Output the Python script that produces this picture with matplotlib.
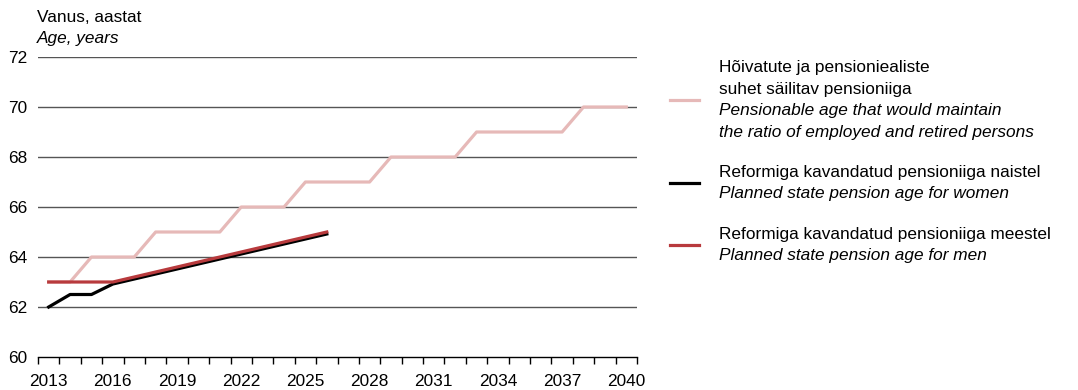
import matplotlib
matplotlib.use("Agg")
import matplotlib.pyplot as plt
from matplotlib.lines import Line2D
from matplotlib.ticker import FixedLocator, NullFormatter

plt.rcParams["font.family"] = ["Liberation Sans", "DejaVu Sans"]

years = list(range(2013, 2041))
ratio_age = [63, 63, 64, 64, 64, 65, 65, 65, 65, 66, 66, 66, 67, 67, 67, 67,
             68, 68, 68, 68, 69, 69, 69, 69, 69, 70, 70, 70]
reform_years = list(range(2013, 2027))
women_age = [62.0, 62.5, 62.5, 62.92, 63.12, 63.32, 63.52, 63.72, 63.92,
             64.12, 64.32, 64.52, 64.72, 64.92]
men_age = [63.0, 63.0, 63.0, 63.0, 63.2, 63.4, 63.6, 63.8, 64.0,
           64.2, 64.4, 64.6, 64.8, 65.0]
xtick_years = list(range(2013, 2041, 3))
yticks = [60, 62, 64, 66, 68, 70, 72]

PINK = "#e6b9b8"
RED = "#b83a3d"
BLACK = "#000000"
FS = 12.4

legend_items = [
    (PINK, ["Hõivatute ja pensioniealiste", "suhet säilitav pensioniiga"],
     ["Pensionable age that would maintain",
      "the ratio of employed and retired persons"]),
    (BLACK, ["Reformiga kavandatud pensioniiga naistel"],
     ["Planned state pension age for women"]),
    (RED, ["Reformiga kavandatud pensioniiga meestel"],
     ["Planned state pension age for men"]),
]

W, H = 1078, 390
fig = plt.figure(figsize=(W / 100, H / 100), dpi=100)
ax = fig.add_axes([38 / W, 1 - 357 / H, (637 - 38) / W, 300 / H])

for y in yticks[1:]:
    ax.axhline(y, color="#555555", lw=1.0, zorder=1)

ax.plot(years, ratio_age, color=PINK, lw=2.3, zorder=2)
ax.plot(reform_years, women_age, color=BLACK, lw=2.3, zorder=3)
ax.plot(reform_years, men_age, color=RED, lw=2.3, zorder=4)

ax.set_xlim(2012.5, 2040.5)
ax.set_ylim(60, 72)
for s in ("top", "right", "left"):
    ax.spines[s].set_visible(False)
ax.spines["bottom"].set_color("#000000")
ax.spines["bottom"].set_linewidth(1.0)

ax.xaxis.set_major_locator(FixedLocator(xtick_years))
ax.xaxis.set_minor_locator(FixedLocator([y - 0.5 for y in range(2013, 2042)]))
ax.xaxis.set_minor_formatter(NullFormatter())
ax.tick_params(axis="x", which="major", length=0, labelsize=FS, pad=12)
ax.tick_params(axis="x", which="minor", length=5, width=1, direction="out",
               color="#000000")
ax.set_yticks(yticks)
ax.tick_params(axis="y", length=0, labelsize=FS, pad=8)

fig.text(37 / W, 1 - 17 / H, "Vanus, aastat", fontsize=FS, va="center", ha="left")
fig.text(37 / W, 1 - 38 / H, "Age, years", fontsize=FS, va="center", ha="left",
         style="italic")

# legend drawn by hand (mixed normal / italic lines)
line_step = 21.7
centers = [100, 183, 245]
for (color, normal, italic), cy in zip(legend_items, centers):
    fig.add_artist(Line2D([670 / W, 699 / W], [1 - cy / H, 1 - cy / H],
                          color=color, lw=2.3, transform=fig.transFigure))
    lines = [(t, "normal") for t in normal] + [(t, "italic") for t in italic]
    top = cy - line_step * (len(lines) - 1) / 2
    for i, (t, st) in enumerate(lines):
        fig.text(719 / W, 1 - (top + i * line_step) / H, t, fontsize=FS,
                 va="center", ha="left", style=st)

fig.savefig("out.png", dpi=100)
